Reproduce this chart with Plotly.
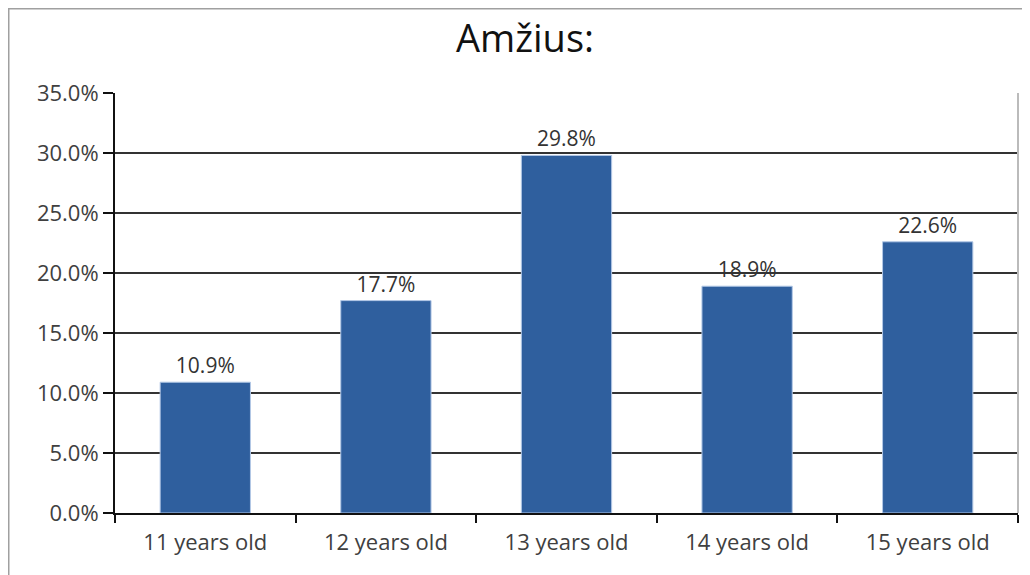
import plotly.graph_objects as go

categories = ["11 years old", "12 years old", "13 years old", "14 years old", "15 years old"]
values = [0.109, 0.177, 0.298, 0.189, 0.226]
labels = ["10.9%", "17.7%", "29.8%", "18.9%", "22.6%"]
title_text = "Amžius:"

FONT = "Open Sans"
# page is drawn with an 8px body margin, so figure coordinates are page - 8
W, H = 1030, 575
L, R, T, B = 107, 20, 85, 70
pw, ph = W - L - R, H - T - B

fig = go.Figure(
    go.Bar(
        x=categories,
        y=values,
        text=labels,
        textposition="outside",
        cliponaxis=False,
        textfont=dict(family=FONT, size=21, color="#333333"),
        marker=dict(color="#2f5f9e", line=dict(color="#b3c8e6", width=1)),
        width=0.5,
    )
)

def px_x(px):
    return (px - L) / pw

def px_y(py):
    return (H - B - py) / ph

fig.update_layout(
    width=W,
    height=H,
    margin=dict(l=L, r=R, t=T, b=B),
    paper_bgcolor="white",
    plot_bgcolor="white",
    showlegend=False,
    title=dict(
        text=title_text,
        font=dict(family=FONT, size=38, color="#111111"),
        x=517 / W,
        xanchor="center",
        y=1 - 31 / H,
        yanchor="middle",
    ),
    xaxis=dict(
        type="category",
        tickson="boundaries",
        ticks="outside",
        ticklen=8,
        tickwidth=2,
        tickcolor="#111111",
        showline=True,
        linecolor="#111111",
        linewidth=2,
        showgrid=False,
        tickfont=dict(family=FONT, size=22, color="#404040"),
        ticklabelstandoff=9,
    ),
    yaxis=dict(
        range=[0, 0.35],
        dtick=0.05,
        tickformat=".1%",
        ticks="outside",
        ticklen=10,
        tickwidth=2,
        tickcolor="#111111",
        showline=True,
        linecolor="#111111",
        linewidth=2,
        showgrid=True,
        gridcolor="#333333",
        gridwidth=1.5,
        zeroline=False,
        tickfont=dict(family=FONT, size=22, color="#404040"),
    ),
    shapes=[
        dict(type="line", xref="paper", yref="paper", x0=1, x1=1, y0=0, y1=1,
             line=dict(color="#bbbbbb", width=2)),
        dict(type="rect", xref="paper", yref="paper",
             x0=px_x(0.75), x1=px_x(1040), y0=px_y(590), y1=px_y(0.75),
             line=dict(color="#a0a0a0", width=1.5), layer="below"),
    ],
)

fig.write_html("out.html")
